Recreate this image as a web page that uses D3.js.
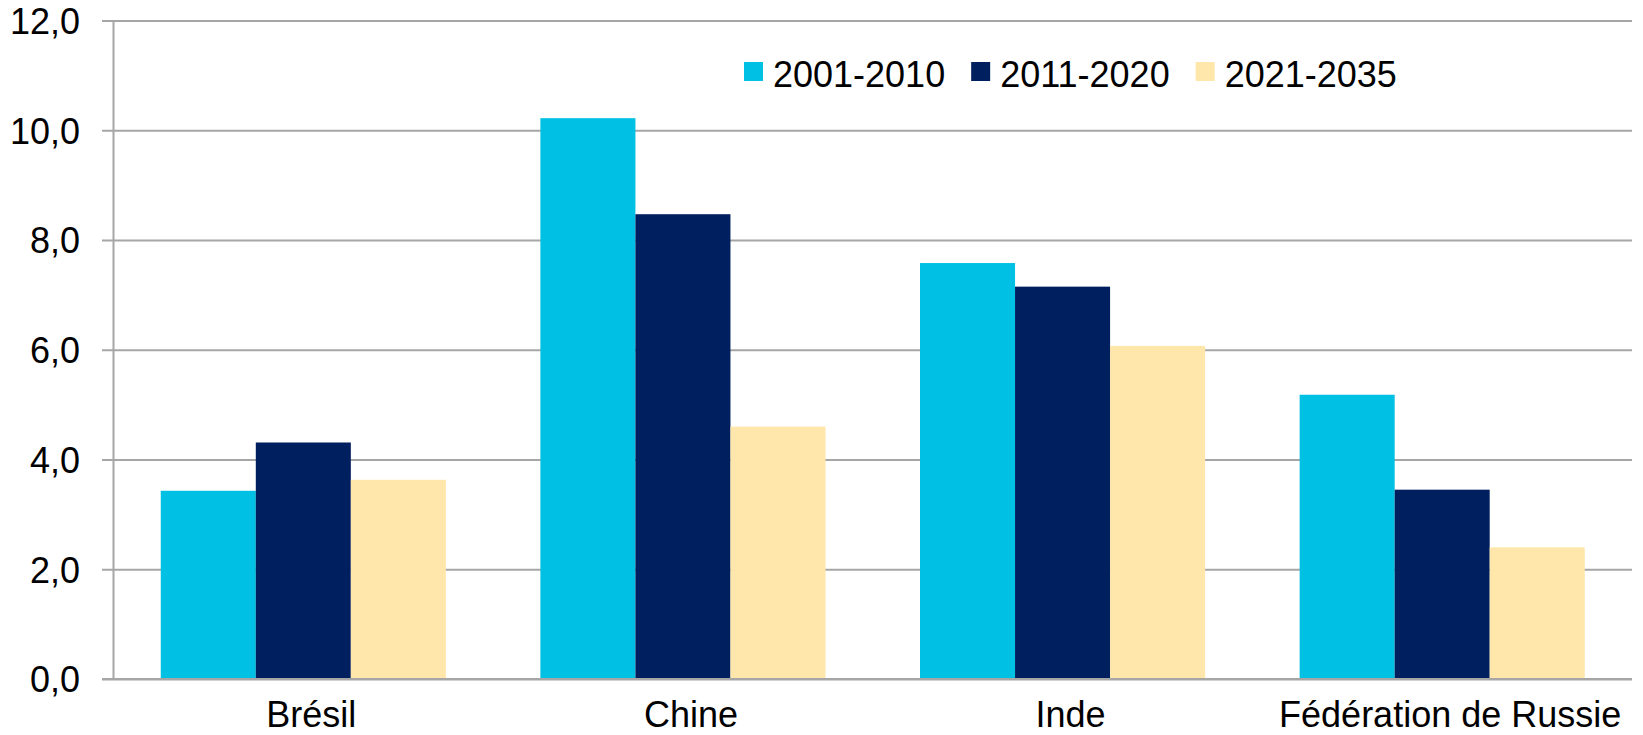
<!DOCTYPE html>
<html>
<head>
<meta charset="utf-8">
<script src="https://cdn.jsdelivr.net/npm/d3@7"></script>
<style>
  body { margin: 0; background: #fff; }
  text { font-family: "Liberation Sans", Arial, sans-serif; fill: #000; }
</style>
</head>
<body>
<svg id="chart" width="1643" height="735"></svg>
<script>
// data
var countries = ["Brésil", "Chine", "Inde", "Fédération de Russie"];
var periods = ["2001-2010", "2011-2020", "2021-2035"];
var v2001 = [3.43, 10.22, 7.58, 5.18];
var v2011 = [4.31, 8.47, 7.15, 3.45];
var v2021 = [3.63, 4.60, 6.07, 2.40];
var yTicks = [0, 2, 4, 6, 8, 10, 12];
var colors = ["#00C0E3", "#001F5F", "#FFE6AA"];

(function() {
var series = [v2001, v2011, v2021]

// plot box (note: "top" is taken by window.top, so use other names)
var pLeft = 113.5, pRight = 1632, pTop = 20.5, pBottom = 679
var fontSize = 36

var svg = d3.select("#chart")

var x = d3.scaleBand().domain(countries)
  .range([pLeft, pRight])
  .paddingInner(0.249).paddingOuter(0.1245)

var xs = d3.scaleBand().domain(periods).range([0, x.bandwidth()])

var y = d3.scaleLinear().domain([0, 12]).range([pBottom, pTop])

var comma = d3.formatLocale({decimal: ",", thousands: " ", grouping: [3], currency: ["", ""]}).format(".1f")

// value axis + gridlines (tick marks stick out 11px left of the axis)
var gx = 102
var yAxis = svg.append("g")
  .attr("transform", "translate(" + gx + ",0)")
  .call(d3.axisLeft(y).tickValues(yTicks).tickFormat(comma)
    .tickSizeInner(-(pRight - gx)).tickSizeOuter(0).tickPadding(22))
yAxis.select(".domain").remove()
yAxis.selectAll(".tick line").attr("stroke", "#a6a6a6").attr("stroke-width", 2)
yAxis.selectAll(".tick text")
  .style("font-size", fontSize + "px")
  .style("font-family", "'Liberation Sans', Arial, sans-serif")
  .attr("fill", "#000")
  .attr("dy", "0.36em")

svg.append("line")
  .attr("x1", pLeft).attr("x2", pLeft)
  .attr("y1", y(12)).attr("y2", y(0))
  .attr("stroke", "#a6a6a6").attr("stroke-width", 2)

// bars
var groups = svg.selectAll("g.grp").data(countries)
  .enter().append("g").attr("class", "grp")
  .attr("transform", function(d) { return "translate(" + x(d) + ",0)" })

groups.selectAll("rect")
  .data(function(d, i) { return periods.map(function(p, j) { return {p: p, v: series[j][i], j: j} }) })
  .enter().append("rect")
  .attr("x", function(d) { return xs(d.p) })
  .attr("width", xs.bandwidth())
  .attr("y", function(d) { return y(d.v) })
  .attr("height", function(d) { return y(0) - y(d.v) })
  .attr("fill", function(d) { return colors[d.j] })

// baseline on top of bars
svg.append("line")
  .attr("x1", gx).attr("x2", pRight)
  .attr("y1", y(0)).attr("y2", y(0))
  .attr("stroke", "#a6a6a6").attr("stroke-width", 2)

// category labels, kept inside the plot on the right
svg.selectAll("text.cat").data(countries)
  .enter().append("text").attr("class", "cat")
  .style("font-size", fontSize + "px")
  .attr("text-anchor", "middle")
  .attr("y", 727)
  .text(function(d) { return d })
  .attr("x", function(d) {
    var cx = x(d) + x.bandwidth() / 2 + 8
    var w = this.getComputedTextLength()
    if (cx + w / 2 > pRight) cx = pRight - w / 2
    return cx
  })

// legend
var lx = 744
periods.forEach(function(p, i) {
  svg.append("rect")
    .attr("x", lx).attr("y", 62)
    .attr("width", 19).attr("height", 19)
    .attr("fill", colors[i])
  var t = svg.append("text")
    .attr("x", lx + 29).attr("y", 87)
    .style("font-size", fontSize + "px")
    .text(p)
  lx = lx + 29 + t.node().getComputedTextLength() + 26
})
})();
</script>
</body>
</html>
